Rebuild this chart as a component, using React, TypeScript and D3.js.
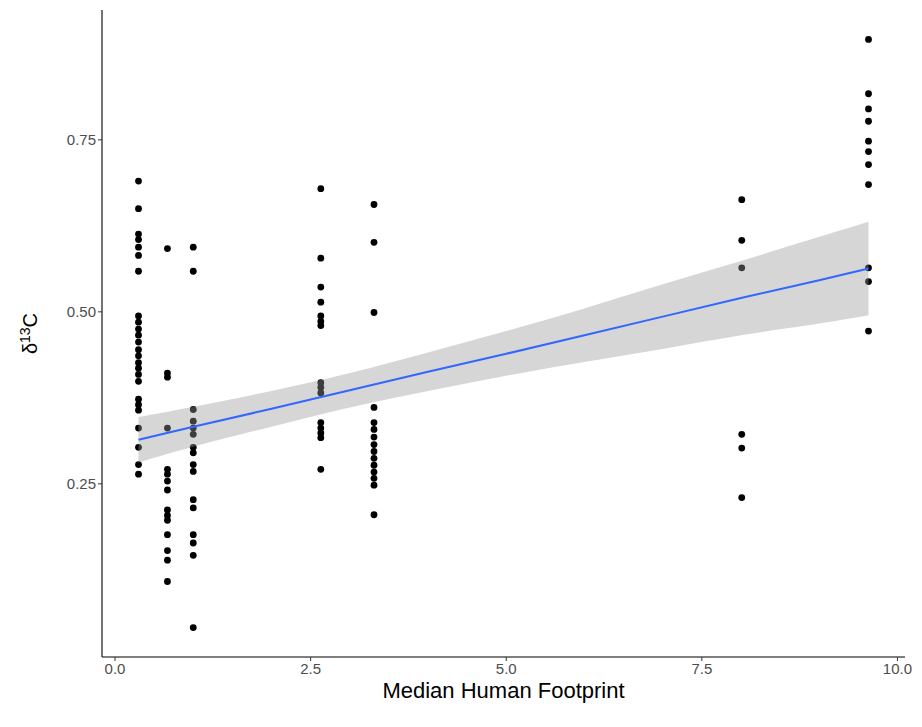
import React from 'react';
import * as d3 from 'd3';

// footprint columns (x) and the d13C values measured at each
const footprints = [0.3, 0.67, 1.0, 2.63, 3.31, 8.01, 9.63];

const d13cAt03 = [0.690, 0.650, 0.613, 0.605, 0.594, 0.582, 0.559, 0.494, 0.485, 0.475, 0.466, 0.456, 0.445,
  0.436, 0.426, 0.418, 0.409, 0.399, 0.373, 0.365, 0.357, 0.331, 0.303, 0.278, 0.264];
const d13cAt067 = [0.592, 0.411, 0.405, 0.331, 0.271, 0.264, 0.254, 0.241, 0.212, 0.204, 0.197, 0.176, 0.153,
  0.139, 0.108];
const d13cAt10 = [0.594, 0.559, 0.358, 0.341, 0.331, 0.322, 0.303, 0.295, 0.278, 0.268, 0.227, 0.215, 0.176,
  0.164, 0.146, 0.041];
const d13cAt263 = [0.679, 0.578, 0.536, 0.514, 0.494, 0.486, 0.480, 0.397, 0.390, 0.382, 0.339, 0.331, 0.324,
  0.317, 0.271];
const d13cAt331 = [0.656, 0.601, 0.499, 0.361, 0.339, 0.329, 0.318, 0.307, 0.297, 0.287, 0.277, 0.267, 0.258,
  0.248, 0.205];
const d13cAt801 = [0.663, 0.604, 0.564, 0.322, 0.302, 0.230];
const d13cAt963 = [0.896, 0.817, 0.795, 0.777, 0.748, 0.733, 0.714, 0.685, 0.564, 0.544, 0.472];

// lm smooth: fitted value and 95% band
const fitX = [0.3, 1, 2, 3, 4, 5, 6, 7, 8, 9, 9.63];
const fitY = [0.314, 0.333, 0.359, 0.386, 0.413, 0.439, 0.466, 0.493, 0.520, 0.546, 0.563];
const fitLo = [0.281, 0.304, 0.333, 0.361, 0.385, 0.407, 0.427, 0.446, 0.466, 0.483, 0.495];
const fitHi = [0.347, 0.362, 0.385, 0.411, 0.441, 0.472, 0.505, 0.540, 0.574, 0.609, 0.631];

const xTicks = [0, 2.5, 5, 7.5, 10];
const yTicks = [0.25, 0.5, 0.75];

const columns = [d13cAt03, d13cAt067, d13cAt10, d13cAt263, d13cAt331, d13cAt801, d13cAt963];
const points = columns.flatMap((vals, i) => vals.map(v => ({ x: footprints[i], y: v })));
const fit = fitX.map((x, i) => ({ x, y: fitY[i], lo: fitLo[i], hi: fitHi[i] }));

const width = 922;
const height = 727;
const margin = { top: 10, right: 17, bottom: 70, left: 102 };

export default function App() {
  const [xMin, xMax] = d3.extent(points, d => d.x) as [number, number];
  const [yMin, yMax] = d3.extent(points, d => d.y) as [number, number];
  const xPad = (xMax - xMin) * 0.05;
  const yPad = (yMax - yMin) * 0.05;

  const x = d3.scaleLinear().domain([xMin - xPad, xMax + xPad]).range([margin.left, width - margin.right]);
  const y = d3.scaleLinear().domain([yMin - yPad, yMax + yPad]).range([height - margin.bottom, margin.top]);

  const area = d3.area<typeof fit[0]>().x(d => x(d.x)).y0(d => y(d.lo)).y1(d => y(d.hi))
    .curve(d3.curveNatural);
  const line = d3.line<typeof fit[0]>().x(d => x(d.x)).y(d => y(d.y));

  const font = '"Liberation Sans", Arial, sans-serif';
  const x0 = margin.left;
  const yBottom = height - margin.bottom;

  return (
    <svg width={width} height={height} style={{ position: 'absolute', left: 0, top: 0, background: '#fff' }}
      fontFamily={font}>
      {points.map((p, i) => (
        <circle key={i} cx={x(p.x)} cy={y(p.y)} r={3.4} fill="#000" />
      ))}
      <path d={area(fit)!} fill="#999999" fillOpacity={0.4} />
      <path d={line(fit)!} fill="none" stroke="#3366FF" strokeWidth={2} />

      {/* axes */}
      <line x1={x0} x2={x0} y1={margin.top} y2={yBottom} stroke="#000" strokeWidth={1.1} />
      <line x1={x0} x2={width - margin.right} y1={yBottom} y2={yBottom} stroke="#000" strokeWidth={1.1} />
      {xTicks.map(t => (
        <g key={t}>
          <line x1={x(t)} x2={x(t)} y1={yBottom} y2={yBottom + 4} stroke="#333" />
          <text x={x(t)} y={yBottom + 17} textAnchor="middle" fontSize={15} fill="#4D4D4D">
            {d3.format('.1f')(t)}
          </text>
        </g>
      ))}
      {yTicks.map(t => (
        <g key={t}>
          <line x1={x0 - 4} x2={x0} y1={y(t)} y2={y(t)} stroke="#333" />
          <text x={x0 - 6} y={y(t)} dy="0.36em" textAnchor="end" fontSize={15} fill="#4D4D4D">
            {d3.format('.2f')(t)}
          </text>
        </g>
      ))}

      <text x={(x0 + width - margin.right) / 2} y={yBottom + 41} textAnchor="middle" fontSize={22} fill="#000">
        Median Human Footprint
      </text>
      <text transform={`translate(37,${(margin.top + yBottom) / 2}) rotate(-90)`} textAnchor="middle"
        fontSize={20} fill="#000">
        δ<tspan dy={-7} fontSize={14}>13</tspan><tspan dy={7}>C</tspan>
      </text>
    </svg>
  );
}
